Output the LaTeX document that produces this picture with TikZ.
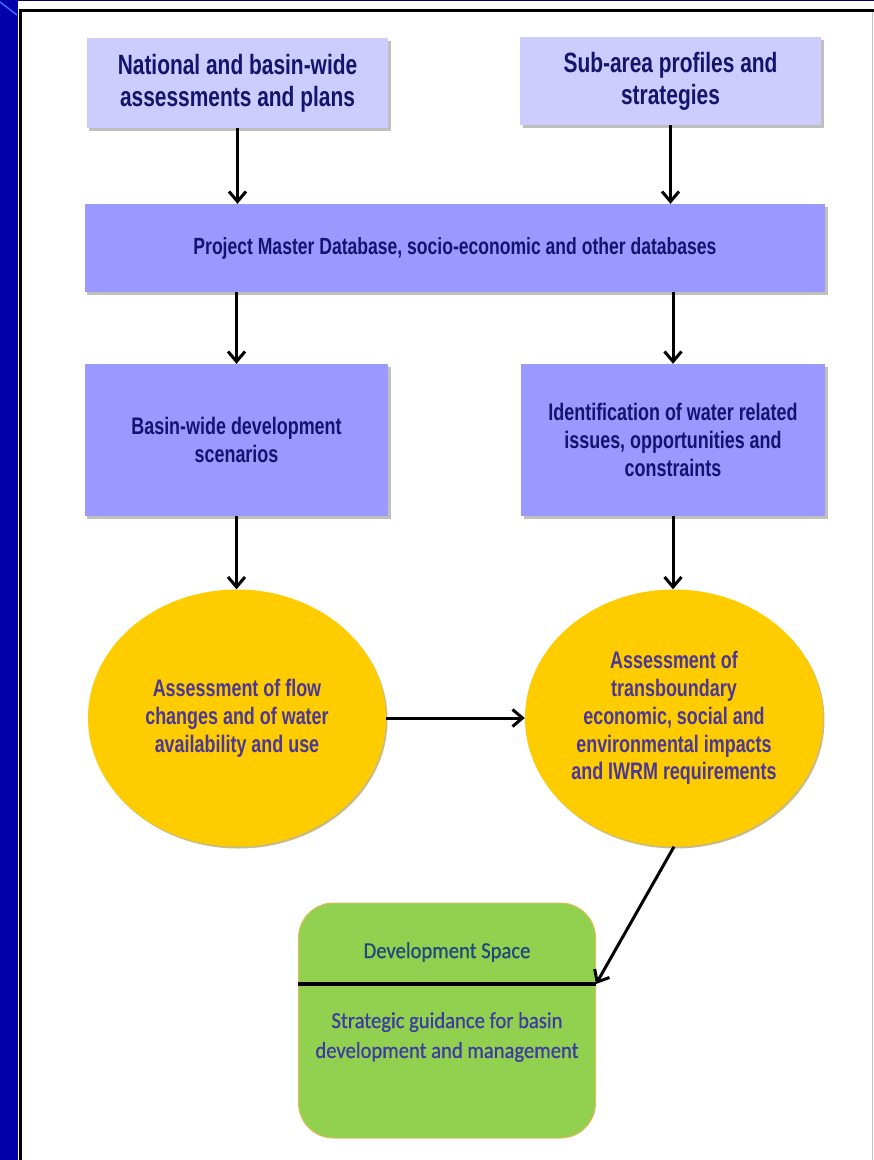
\documentclass[tikz,border=0pt]{standalone}
\usepackage{fontspec}
\setmainfont{Liberation Sans}[FakeStretch=0.75]
\newfontfamily\greenfont{Carlito}[FakeStretch=0.9,FakeBold=0.6]
\usetikzlibrary{shapes.geometric,arrows.meta,shadows}
\definecolor{slideblue}{RGB}{0,0,170}
\definecolor{slidenavy}{RGB}{0,0,90}
\definecolor{slidestreak}{RGB}{60,110,255}
\definecolor{paleblue}{RGB}{204,204,255}
\definecolor{midblue}{RGB}{153,153,255}
\definecolor{gold}{RGB}{255,204,0}
\definecolor{goldshade}{RGB}{150,120,0}
\definecolor{leaf}{RGB}{146,208,80}
\definecolor{leafrim}{RGB}{220,190,90}
\definecolor{navytext}{RGB}{20,20,110}
\definecolor{ovaltext}{RGB}{75,55,150}
\definecolor{headtext}{RGB}{31,73,125}
\definecolor{bodytext}{RGB}{60,60,160}
\begin{document}
\begin{tikzpicture}[x=1bp,y=-1bp,
  box/.style={rectangle,fill=#1,inner sep=0,align=center,text=navytext,
    font=\bfseries\fontsize{24}{28}\selectfont,
    drop shadow={shadow xshift=2.5bp,shadow yshift=-2.5bp,opacity=0.5}},
  oval/.style={ellipse,fill=gold,inner sep=0,align=center,text=ovaltext,
    minimum width=298bp,minimum height=257bp,
    font=\bfseries\fontsize{24}{28}\selectfont,
    drop shadow={shadow xshift=1.5bp,shadow yshift=-2bp,fill=goldshade,opacity=0.5}},
  flow/.style={line width=3bp,-{Straight Barb[length=10bp,width=17bp]}}]
  \useasboundingbox (0,0) rectangle (874,1160);
  \fill[slideblue] (0,0) rectangle (874,1160);
  \fill[white] (18,1) rectangle (874,1160);
  \draw[slidenavy,line width=1bp] (18,0.5) -- (874,0.5);
  \draw[line width=3.5bp] (20.5,1160) -- (20.5,10.5) -- (874,10.5);
  \draw[gray!50,line width=1bp] (872.5,12) -- (872.5,1160);
  \draw[slidestreak,line width=1.5bp] (0,2) -- (17,15);

  \node[box=paleblue,minimum width=301bp,minimum height=90bp,font=\bfseries\fontsize{28}{32}\selectfont]
    (nat) at (237.5,83) {National and basin-wide\\assessments and plans};
  \node[box=paleblue,minimum width=301bp,minimum height=88bp,font=\bfseries\fontsize{28}{32}\selectfont]
    (sub) at (670.5,81) {Sub-area profiles and\\strategies};
  \node[box=midblue,minimum width=740bp,minimum height=88bp,font=\bfseries\fontsize{23.5}{28}\selectfont]
    (db) at (455,248) {Project Master Database, socio-economic and other databases};
  \node[box=midblue,minimum width=303bp,minimum height=152bp]
    (basin) at (236.5,440) {Basin-wide development\\scenarios};
  \node[box=midblue,minimum width=304bp,minimum height=152bp]
    (ident) at (673,440) {Identification of water related\\issues, opportunities and\\constraints};
  \node[oval] (flow) at (237,718) {Assessment of flow\\changes and of water\\availability and use};
  \node[oval] (trans) at (674,718) {Assessment of\\transboundary\\economic, social and\\environmental impacts\\and IWRM requirements};

  \node[rectangle,rounded corners=35bp,fill=leaf,draw=leafrim,line width=1bp,
    minimum width=297bp,minimum height=235bp] (space) at (447,1020.5) {};
  \coordinate (split) at (447,984);
  \node[text=headtext,font=\greenfont\fontsize{23}{30}\selectfont] (head) at (447,952) {Development Space};
  \node[text=bodytext,align=center,font=\greenfont\fontsize{23}{30}\selectfont] (guide) at (447,1037)
    {Strategic guidance for basin\\development and management};
  \draw[line width=3.5bp] (space.west |- split) -- (space.east |- split);

  \foreach \a/\b in {nat/db,sub/db,basin/flow,ident/trans}
    \draw[flow] (\a.south) -- (\a.south |- \b.north);
  \foreach \b in {basin,ident}
    \draw[flow] (\b.north |- db.south) -- (\b.north);
  \draw[flow] (flow.east) -- (trans.west);
  \draw[flow] (trans.south) -- (space.east |- split);
\end{tikzpicture}
\end{document}
